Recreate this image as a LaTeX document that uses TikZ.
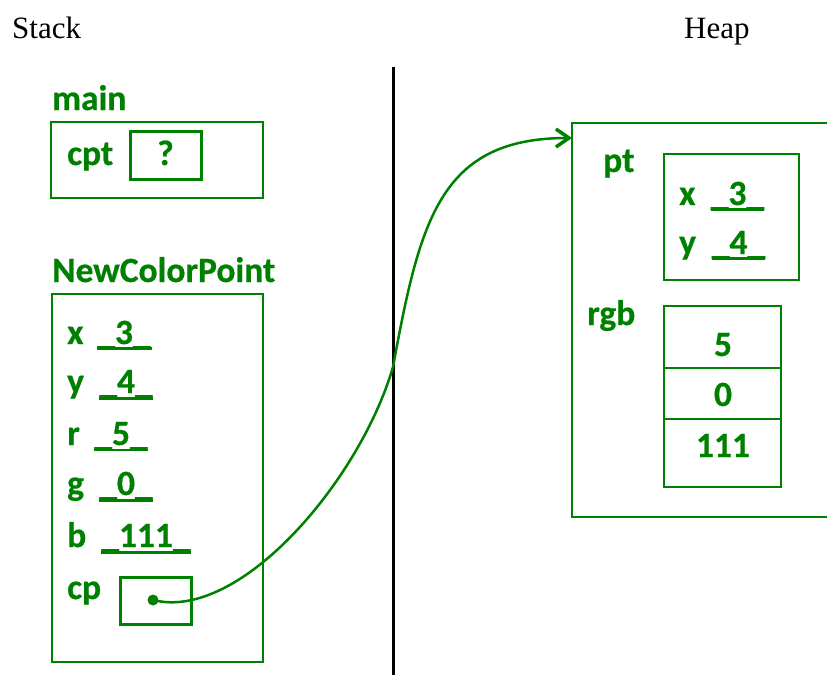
\documentclass[tikz,border=0pt]{standalone}
\usepackage{fontspec}
\usetikzlibrary{arrows.meta}
\setmainfont{Liberation Serif}
\newfontfamily\grfont{Carlito}[BoldFeatures={FakeBold=0.6}]
\definecolor{grn}{RGB}{0,128,0}
\begin{document}
\begin{tikzpicture}[x=1pt,y=-1pt,
  lbl/.style={anchor=base west,inner sep=0,text=grn,font=\grfont\bfseries\fontsize{35.5}{42}\selectfont},
  val/.style={anchor=base,inner sep=0,text=grn,font=\grfont\bfseries\fontsize{35.5}{42}\selectfont},
  hdr/.style={anchor=base west,inner sep=0,font=\fontsize{31}{36}\selectfont},
  frame/.style={draw=grn,line width=2pt},
  cell/.style={draw=grn,line width=3pt},
  uline/.style={draw=grn,line width=2.8pt},
  divider/.style={draw=black,line width=3pt},
  link/.style={draw=grn,line width=2.5pt,-{Straight Barb[length=13pt,width=18pt,line width=3.5pt]}}]
\useasboundingbox (0,0) rectangle (827,675);
% headers
\node[hdr] (stack) at (12,38) {Stack};
\node[hdr] (heap) at (684,38) {Heap};
\draw[divider] (393,67) -- (393,675);
% main frame
\node[lbl] (mainlbl) at (52,110) {main};
\draw[frame] (51,122) rectangle (263,198);
\node[lbl] (cptlbl) at (67,165) {cpt};
\draw[cell] (130,131) rectangle (201,179);
\node[val] (q) at (165.5,165) {?};
% NewColorPoint frame
\node[lbl] (ncplbl) at (52,282) {NewColorPoint};
\draw[frame] (52,294) rectangle (263,662);
\node[lbl] (xl) at (67,344) {x};
\node[val] (xv) at (124,344) {\_3\_};
\draw[uline] (97,348.5) -- (152,348.5);
\node[lbl] (yl) at (67,393) {y};
\node[val] (yv) at (126,393) {\_4\_};
\draw[uline] (99,398.5) -- (153,398.5);
\node[lbl] (rl) at (67,445) {r};
\node[val] (rv) at (121,445) {\_5\_};
\draw[uline] (94,450) -- (148,450);
\node[lbl] (gl) at (67,495) {g};
\node[val] (gv) at (126,495) {\_0\_};
\draw[uline] (99,500.5) -- (153,500.5);
\node[lbl] (bl) at (67,547) {b};
\node[val] (bv) at (146,547) {\_111\_};
\draw[uline] (101,552.5) -- (191,552.5);
\node[lbl] (cpl) at (67,599) {cp};
\draw[cell] (120,577) rectangle (191,624);
\node[circle,fill=grn,inner sep=0,minimum size=11pt] (dot) at (153,600) {};
% Heap object
\draw[frame] (827,123) -- (572,123) -- (572,517) -- (827,517);
\coordinate (tip) at (572,138);
\node[lbl] (ptl) at (603,172) {pt};
\draw[frame,line width=2.5pt] (664,154) rectangle (799,280);
\node[lbl] (hxl) at (679,205) {x};
\node[val] (hxv) at (737.5,205) {\_3\_};
\draw[uline] (711,209.5) -- (764,209.5);
\node[lbl] (hyl) at (679,254) {y};
\node[val] (hyv) at (738.5,254) {\_4\_};
\draw[uline] (712,258.5) -- (765,258.5);
\node[lbl] (rgbl) at (587,325) {rgb};
\draw[frame] (664,306) rectangle (781,487);
\draw[frame] (664,368) -- (781,368);
\draw[frame] (664,419) -- (781,419);
\node[val] (c5) at (723,356) {5};
\node[val] (c0) at (723,406) {0};
\node[val] (c111) at (723,457) {111};
% pointer
\draw[link] (dot.center) .. controls (240,622) and (360,480) .. (393,367)
  .. controls (420,220) and (440,138) .. (tip);
\end{tikzpicture}
\end{document}
